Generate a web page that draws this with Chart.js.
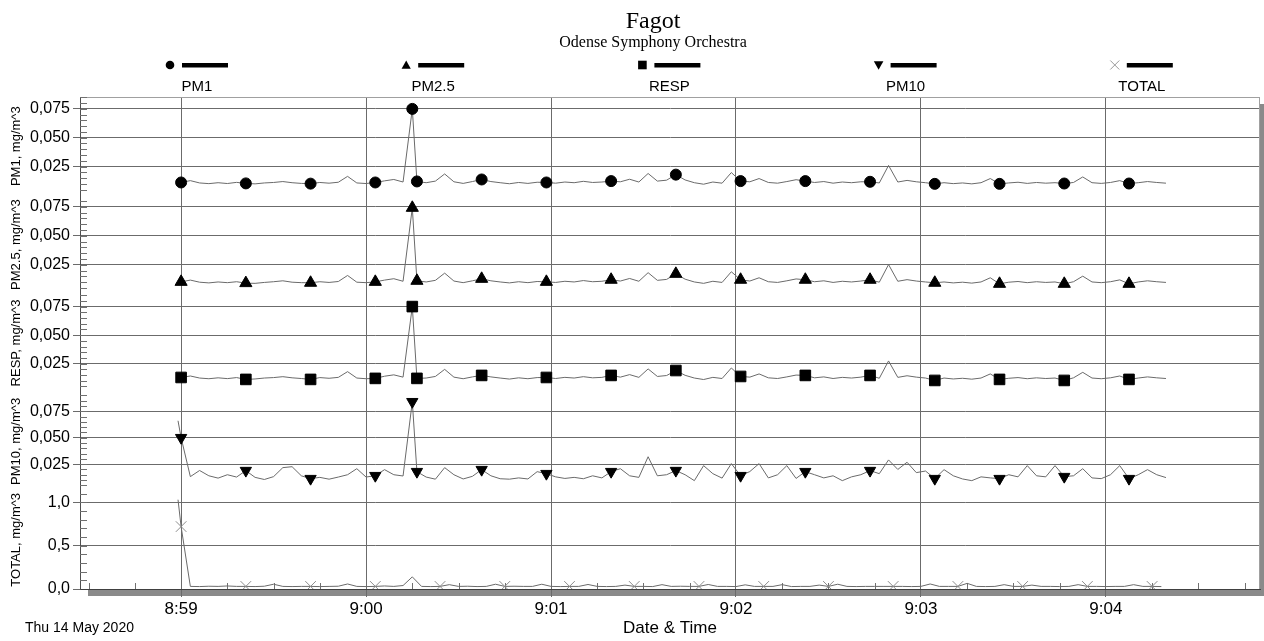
<!DOCTYPE html>
<html><head><meta charset="utf-8">
<script src="https://cdn.jsdelivr.net/npm/chart.js@4.4.1/dist/chart.umd.min.js"></script>
<style>html,body{margin:0;padding:0;background:#fff;}#wrap{width:1264px;height:641px;position:relative;}</style>
</head><body><div id="wrap"><canvas id="c"></canvas></div>
<script>
const chartTitle = 'Fagot';
const chartSubtitle = 'Odense Symphony Orchestra';
const dateLabel = 'Thu 14 May 2020';
const xAxisTitle = 'Date & Time';
const seriesNames = ['PM1', 'PM2.5', 'RESP', 'PM10', 'TOTAL'];
const yTitles = ['PM1, mg/m^3', 'PM2.5, mg/m^3', 'RESP, mg/m^3', 'PM10, mg/m^3', 'TOTAL, mg/m^3'];
// seconds relative to 8:59:00
const xTickSeconds = [0, 60, 120, 180, 240, 300];
const xTickLabels = ['8:59', '9:00', '9:01', '9:02', '9:03', '9:04'];
const pmTickValues = [0.025, 0.05, 0.075];
const pmTickLabels = ['0,025', '0,050', '0,075'];
const totalTickValues = [0, 0.5, 1.0];
const totalTickLabels = ['0,0', '0,5', '1,0'];

const timesPM = [-1,0,3,6,9,12,15,18,21,24,27,30,33,36,39,42,45,48,51,54,57,60,63,66,69,72,75,
76.5,79.5,82.5,85.5,88.5,91.5,94.5,
97.5,100.5,103.5,106.5,109.5,112.5,115.5,
118.5,121.5,124.5,127.5,130.5,133.5,136.5,
139.5,142.5,145.5,148.5,151.5,154.5,157.5,
160.5,163.5,166.5,169.5,172.5,175.5,178.5,
181.5,184.5,187.5,190.5,193.5,196.5,199.5,
202.5,205.5,208.5,211.5,214.5,217.5,220.5,
223.5,226.5,229.5,232.5,235.5,238.5,241.5,
244.5,247.5,250.5,253.5,256.5,259.5,262.5,
265.5,268.5,271.5,274.5,277.5,280.5,283.5,
286.5,289.5,292.5,295.5,298.5,301.5,304.5,
307.5,310.5,313.5,316.5,319.5];

const timesTotal = [-1,0,3,6,9,12,15,18,21,24,27,30,33,36,39,42,45,48,51,54,57,60,63,66,69,72,75,78,81,84,87,90,93,96,99,102,105,108,111,114,117,120,123,126,129,132,135,138,141,144,147,150,153,156,159,162,165,168,171,174,177,180,183,186,189,192,195,198,201,204,207,210,213,216,219,222,225,228,231,234,237,240,243,246,249,252,255,258,261,264,267,270,273,276,279,282,285,288,291,294,297,300,303,306,309,312,315,318];

const pm1 = [.0112,
.0112,.0128,.0108,.0102,.0110,.0103,.0113,
.0104,.0100,.0108,.0112,.0120,.0110,.0104,
.0102,.0112,.0106,.0114,.0165,.0108,.0103,
.0112,.0126,.0138,.0116,
.0750,
.0121,.0110,.0124,.0186,.0118,.0104,.0120,
.0138,.0120,.0110,.0101,.0112,.0104,.0114,
.0112,.0106,.0116,.0110,.0122,.0112,.0116,
.0124,.0118,.0140,.0116,.0190,.0124,.0132,
.0180,.0134,.0110,.0097,.0116,.0106,.0198,
.0124,.0118,.0146,.0112,.0106,.0120,.0136,
.0124,.0112,.0120,.0106,.0116,.0110,.0118,
.0118,.0108,.0260,.0116,.0130,.0118,.0110,
.0100,.0110,.0102,.0108,.0100,.0110,.0146,
.0100,.0108,.0114,.0104,.0112,.0106,.0110,
.0103,.0112,.0160,.0110,.0104,.0112,.0128,
.0103,.0110,.0120,.0112,.0106];

const pm25 = [.0103,
.0103,.0118,.0100,.0094,.0102,.0096,.0104,
.0092,.0090,.0098,.0104,.0112,.0100,.0096,
.0095,.0104,.0098,.0106,.0158,.0100,.0096,
.0103,.0118,.0130,.0108,
.0741,
.0112,.0102,.0116,.0178,.0110,.0096,.0112,
.0129,.0112,.0102,.0094,.0104,.0096,.0106,
.0103,.0098,.0108,.0102,.0114,.0104,.0108,
.0121,.0110,.0132,.0108,.0182,.0116,.0124,
.0172,.0126,.0102,.0090,.0108,.0098,.0190,
.0121,.0110,.0138,.0104,.0098,.0112,.0128,
.0121,.0104,.0112,.0098,.0108,.0102,.0110,
.0121,.0100,.0252,.0108,.0122,.0110,.0102,
.0095,.0102,.0094,.0100,.0092,.0102,.0138,
.0086,.0100,.0106,.0096,.0104,.0098,.0102,
.0086,.0104,.0152,.0102,.0096,.0104,.0120,
.0086,.0102,.0112,.0104,.0098];

const resp = [.0129,
.0129,.0142,.0124,.0118,.0126,.0119,.0128,
.0112,.0116,.0124,.0128,.0136,.0126,.0120,
.0112,.0128,.0122,.0130,.0180,.0124,.0118,
.0121,.0140,.0152,.0132,
.0750,
.0121,.0124,.0138,.0200,.0132,.0118,.0134,
.0147,.0134,.0124,.0115,.0126,.0118,.0128,
.0129,.0120,.0130,.0124,.0136,.0126,.0130,
.0147,.0132,.0154,.0130,.0204,.0138,.0146,
.0190,.0148,.0124,.0111,.0130,.0120,.0212,
.0138,.0132,.0160,.0126,.0120,.0134,.0150,
.0147,.0126,.0134,.0120,.0130,.0124,.0132,
.0147,.0122,.0274,.0130,.0144,.0132,.0124,
.0103,.0124,.0116,.0122,.0114,.0124,.0160,
.0112,.0122,.0128,.0118,.0126,.0120,.0124,
.0103,.0126,.0174,.0124,.0118,.0126,.0142,
.0112,.0124,.0134,.0126,.0120];

const pm10 = [.066,
.050,.0132,.0190,.0140,.0118,.0150,.0128,
.0189,.0125,.0105,.0132,.0217,.0226,.0140,
.0113,.0125,.0108,.0128,.0150,.0207,.0128,
.0141,.0198,.0150,.0138,
.084,
.0179,.0128,.0108,.0217,.0150,.0110,.0135,
.0198,.0140,.0112,.0108,.0120,.0110,.0179,
.0160,.0130,.0115,.0125,.0112,.0140,.0120,
.0179,.0207,.0140,.0125,.0320,.0140,.0150,
.0189,.0150,.0094,.0236,.0160,.0118,.0255,
.0141,.0180,.0255,.0120,.0150,.0236,.0115,
.0179,.0150,.0120,.0140,.0094,.0130,.0150,
.0189,.0160,.0290,.0200,.0268,.0170,.0185,
.0113,.0198,.0140,.0110,.0094,.0130,.0120,
.0113,.0150,.0130,.0236,.0140,.0130,.0236,
.0132,.0140,.0207,.0120,.0113,.0150,.0236,
.0113,.0150,.0198,.0150,.0123];

const total = [1.03,
.72,.030,.028,.032,.030,.035,.030,
.030,.028,.032,.055,.030,.028,.030,
.030,.028,.030,.032,.058,.030,.028,
.030,.035,.030,.040,.140,.030,.028,
.030,.050,.030,.032,.028,.030,.055,
.030,.032,.030,.030,.055,.030,.028,
.030,.030,.052,.030,.028,.030,.045,
.030,.030,.028,.050,.030,.032,.030,
.030,.052,.030,.030,.028,.048,.030,
.030,.030,.050,.028,.030,.030,.045,
.030,.055,.030,.028,.030,.030,.030,
.030,.030,.028,.030,.058,.030,.030,
.030,.065,.030,.028,.030,.050,.030,
.030,.045,.030,.030,.028,.030,.050,
.030,.030,.028,.030,.030,.050,.030,
.030,.028];

// data indices that carry a marker symbol
const markIdxPM = [1,8,15,22,26,27,34,41,48,55,62,69,76,83,90,97,104];
const markIdxTotal = [1,8,15,22,29,36,43,50,57,64,71,78,85,92,99,106];

const FONT = "'Liberation Sans', Arial, sans-serif";
Chart.defaults.font.family = FONT;
Chart.defaults.color = '#000';

function pts(times, vals) { return times.map((t, i) => ({x: t, y: vals[i]})); }

const LINE = '#6a6a6a';
function ds(label, times, vals, axis, style, radius, rot, marks, mcolor) {
  return {
    label, data: pts(times, vals), yAxisID: axis,
    borderColor: LINE, borderWidth: 1, tension: 0, fill: false,
    pointStyle: style, rotation: rot,
    pointRadius: c => marks.includes(c.dataIndex) ? radius : 0,
    pointBackgroundColor: mcolor, pointBorderColor: mcolor, pointBorderWidth: 1,
    pointHoverRadius: 0
  };
}

function yScale(max, tickVals, tickLabels, title, weight) {
  return {
    type: 'linear', position: 'left', stack: 'panels', stackWeight: 1, weight: weight,
    min: 0, max: max,
    afterBuildTicks: s => { s.ticks = tickVals.map(v => ({value: v})); },
    afterFit: s => { s.width = 80; },
    ticks: { callback: (v, i) => tickLabels[i], font: {size: 16}, color: '#000', padding: 3, autoSkip: false },
    grid: { color: '#6b6b6b', lineWidth: 1, tickLength: 7, drawTicks: true },
    border: { display: true, color: '#505050', width: 1 },
    title: { display: true, text: title, font: {size: 13}, color: '#000', padding: {top: 9, bottom: 0} }
  };
}

function drawMarker(ctx, style, x, y, r, color) {
  ctx.save();
  ctx.fillStyle = color; ctx.strokeStyle = color; ctx.lineWidth = 1;
  ctx.beginPath();
  if (style === 'circle') { ctx.arc(x, y, r, 0, Math.PI * 2); ctx.fill(); }
  else if (style === 'up') { ctx.moveTo(x, y - r); ctx.lineTo(x + r, y + r * 0.8); ctx.lineTo(x - r, y + r * 0.8); ctx.closePath(); ctx.fill(); }
  else if (style === 'down') { ctx.moveTo(x, y + r); ctx.lineTo(x + r, y - r * 0.8); ctx.lineTo(x - r, y - r * 0.8); ctx.closePath(); ctx.fill(); }
  else if (style === 'square') { ctx.fillRect(x - r, y - r, 2 * r, 2 * r); }
  else if (style === 'x') { ctx.moveTo(x - r, y - r); ctx.lineTo(x + r, y + r); ctx.moveTo(x + r, y - r); ctx.lineTo(x - r, y + r); ctx.stroke(); }
  ctx.restore();
}

const legendStyles = [['circle', 4.3, '#000'], ['up', 4.6, '#000'], ['square', 4.3, '#000'], ['down', 4.8, '#000'], ['x', 4.5, '#999']];

const decor = {
  id: 'decor',
  beforeDraw(chart) {
    const {ctx, chartArea: a} = chart;
    ctx.save();
    ctx.fillStyle = '#8a8a8a';
    ctx.fillRect(88, a.bottom + 1, chart.width - 88, 6);
    ctx.fillRect(a.right, a.top + 7, chart.width - a.right, a.bottom - a.top);
    ctx.restore();
  },
  beforeDatasetsDraw(chart) {
    const {ctx, chartArea: a, scales} = chart;
    ctx.save();
    ctx.lineWidth = 1;
    ctx.strokeStyle = '#a0a0a0';
    ctx.beginPath();
    ctx.moveTo(a.left, a.top + 0.5); ctx.lineTo(a.right, a.top + 0.5);
    ctx.moveTo(a.right - 0.5, a.top); ctx.lineTo(a.right - 0.5, a.bottom);
    ctx.stroke();
    ctx.strokeStyle = '#707070';
    ctx.beginPath();
    const minor = [['yPM1', 0.005], ['yPM25', 0.005], ['yRESP', 0.005], ['yPM10', 0.005], ['yTOT', 0.1]];
    for (const [id, step] of minor) {
      const s = scales[id];
      for (let k = 1; k * step < s.max; k++) {
        const py = Math.round(s.getPixelForValue(k * step)) + 0.5;
        ctx.moveTo(a.left, py); ctx.lineTo(a.left + 7, py);
      }
    }
    const xs = scales.x;
    for (let k = -2; k * 15 < xs.max; k++) {
      if (k % 4 === 0) continue;
      const px = Math.round(xs.getPixelForValue(k * 15)) + 0.5;
      ctx.moveTo(px, a.bottom); ctx.lineTo(px, a.bottom - 6);
    }
    ctx.stroke();
    ctx.restore();
  },
  afterDraw(chart) {
    const {ctx} = chart;
    ctx.save();
    ctx.fillStyle = '#000';
    ctx.textAlign = 'center';
    ctx.textBaseline = 'alphabetic';
    ctx.font = "24px 'Liberation Serif', 'Times New Roman', serif";
    ctx.fillText(chartTitle, 653, 28);
    ctx.font = "16px 'Liberation Serif', 'Times New Roman', serif";
    ctx.fillText(chartSubtitle, 653, 47);
    // legend
    ctx.font = '15px ' + FONT;
    seriesNames.forEach((name, i) => {
      const mx = 170 + 236.2 * i;
      const [st, r, col] = legendStyles[i];
      drawMarker(ctx, st, mx, 65, r, col);
      ctx.fillStyle = '#000';
      ctx.fillRect(mx + 12, 63, 46, 4.5);
      ctx.fillText(name, mx + 27, 91);
    });
    ctx.textAlign = 'left';
    ctx.textBaseline = 'middle';
    ctx.font = '14px ' + FONT;
    ctx.fillText(dateLabel, 25, 628);
    ctx.restore();
  }
};

new Chart(document.getElementById('c'), {
  type: 'line',
  data: {
    datasets: [
      ds(seriesNames[0], timesPM, pm1, 'yPM1', 'circle', 5.5, 0, markIdxPM, '#000'),
      ds(seriesNames[1], timesPM, pm25, 'yPM25', 'triangle', 7, 0, markIdxPM, '#000'),
      ds(seriesNames[2], timesPM, resp, 'yRESP', 'rect', 7.5, 0, markIdxPM, '#000'),
      ds(seriesNames[3], timesPM, pm10, 'yPM10', 'triangle', 6.5, 180, markIdxPM, '#000'),
      ds(seriesNames[4], timesTotal, total, 'yTOT', 'crossRot', 7.5, 0, markIdxTotal, '#8c8c8c')
    ]
  },
  options: {
    responsive: true, maintainAspectRatio: false, animation: false, events: [],
    layout: { padding: { top: 97, right: 4, left: 0, bottom: 0 } },
    plugins: { legend: { display: false }, title: { display: false }, tooltip: { enabled: false } },
    scales: {
      x: {
        type: 'linear', position: 'bottom', min: -32.8, max: 350,
        afterBuildTicks: s => { s.ticks = xTickSeconds.map(v => ({value: v})); },
        afterFit: s => { s.height = 52; },
        ticks: { callback: (v, i) => xTickLabels[i], font: {size: 17}, color: '#000', padding: 2, maxRotation: 0, autoSkip: false },
        grid: { color: '#6b6b6b', lineWidth: 1, tickLength: 8 },
        border: { color: '#404040', width: 1 },
        title: { display: true, text: xAxisTitle, font: {size: 17}, color: '#000', padding: {top: 0, bottom: 2} }
      },
      yTOT: yScale(1.135, totalTickValues, totalTickLabels, yTitles[4], 1),
      yPM10: yScale(0.093, pmTickValues, pmTickLabels, yTitles[3], 2),
      yRESP: yScale(0.0862, pmTickValues, pmTickLabels, yTitles[2], 3),
      yPM25: yScale(0.0848, pmTickValues, pmTickLabels, yTitles[1], 4),
      yPM1: yScale(0.0853, pmTickValues, pmTickLabels, yTitles[0], 5)
    }
  },
  plugins: [decor]
});
</script>
</body></html>
